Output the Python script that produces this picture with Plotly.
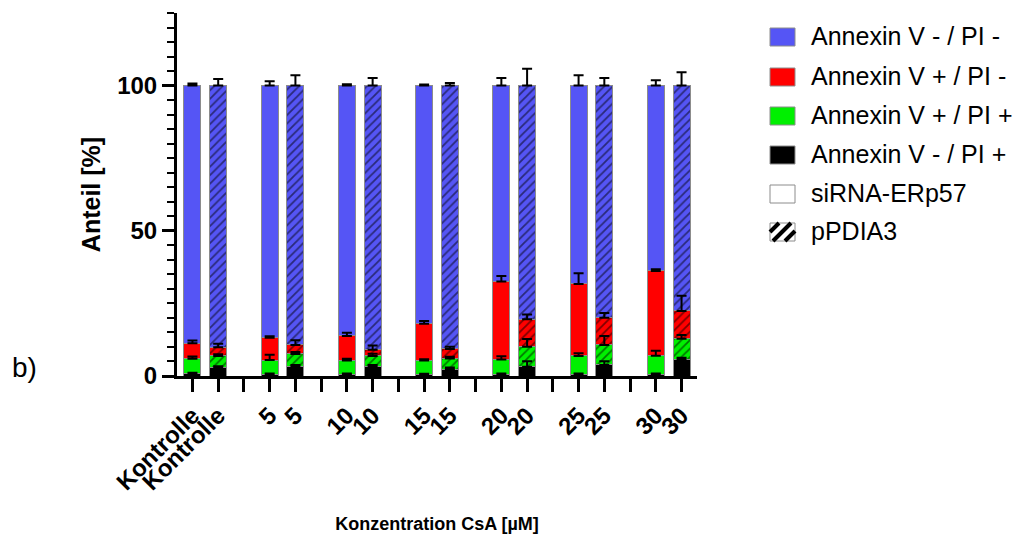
import plotly.graph_objects as go

# ---------------- data ----------------
categories = ["Kontrolle", "5", "10", "15", "20", "25", "30"]

# siRNA-ERp57 (solid bars), stacked bottom -> top
si_black = [0.8, 0.6, 0.6, 0.5, 0.6, 0.6, 0.6]
si_green = [5.1, 4.9, 4.7, 4.8, 5.1, 6.3, 6.4]
si_red = [5.4, 7.7, 8.5, 12.7, 26.8, 24.8, 29.2]
si_blue = [88.7, 86.8, 86.2, 82.0, 67.5, 68.3, 63.8]

# pPDIA3 (hatched bars)
pp_black = [2.9, 3.2, 3.2, 2.4, 3.2, 3.8, 5.7]
pp_green = [4.0, 4.4, 3.7, 3.6, 6.9, 6.9, 7.1]
pp_red = [3.0, 3.1, 2.1, 3.3, 9.4, 9.4, 9.6]
pp_blue = [90.1, 89.3, 91.0, 90.7, 80.5, 79.9, 77.6]

# upper error bars (SD)
si_black_err = [0.3, 0.3, 0.3, 0.3, 0.3, 0.3, 0.3]
si_green_err = [0.8, 1.8, 0.6, 0.5, 1.1, 0.9, 1.7]
si_red_err = [0.9, 0.5, 1.1, 0.9, 1.9, 3.7, 0.6]
si_blue_err = [0.7, 1.5, 0.5, 0.4, 2.6, 3.6, 1.8]
pp_black_err = [0.5, 0.6, 0.6, 0.5, 1.9, 1.3, 0.6]
pp_green_err = [0.6, 0.7, 0.8, 0.6, 2.6, 3.1, 1.3]
pp_red_err = [1.2, 1.6, 1.5, 0.8, 1.7, 1.6, 5.2]
pp_blue_err = [2.3, 3.6, 2.6, 0.9, 5.8, 2.6, 4.6]

series_names = ["Annexin V - / PI +", "Annexin V + / PI +", "Annexin V + / PI -", "Annexin V - / PI -"]
legend_names = ["Annexin V - / PI -", "Annexin V + / PI -", "Annexin V + / PI +", "Annexin V - / PI +",
                "siRNA-ERp57", "pPDIA3"]

# ---------------- style ----------------
COL = {"Annexin V - / PI +": "#000000", "Annexin V + / PI +": "#00F000",
       "Annexin V + / PI -": "#FF0000", "Annexin V - / PI -": "#5555F5"}
FONT = "Liberation Sans, Arial, sans-serif"

# layout geometry (reference pixels); page body adds an 8 px offset
OFF = 8
W_FIG, H_FIG = 1025 - OFF, 534 - OFF
L, R_EDGE, T, B = 177 - OFF, 697 - OFF, 13 - OFF, 376 - OFF
PW, PH = R_EDGE - L, B - T


def pxx(p):
    return (p - OFF - L) / PW


def pxy(p):
    return (B - (p - OFF)) / PH


x_si = [3 * i for i in range(len(categories))]
x_pp = [3 * i + 1 for i in range(len(categories))]

si_vals = [si_black, si_green, si_red, si_blue]
pp_vals = [pp_black, pp_green, pp_red, pp_blue]
si_errs = [si_black_err, si_green_err, si_red_err, si_blue_err]
pp_errs = [pp_black_err, pp_green_err, pp_red_err, pp_blue_err]

fig = go.Figure()

for name, vals in zip(series_names, si_vals):
    fig.add_trace(go.Bar(x=x_si, y=vals, name=name, width=0.66, showlegend=False,
                         marker=dict(color=COL[name], line=dict(color="#8c8c8c", width=1))))
for name, vals in zip(series_names, pp_vals):
    fig.add_trace(go.Bar(x=x_pp, y=vals, name=name + " pPDIA3", width=0.66, showlegend=False,
                         marker=dict(color=COL[name], line=dict(color="#8c8c8c", width=1),
                                     pattern=dict(shape="/", fgcolor="#000000", size=6,
                                                  solidity=0.3, fillmode="overlay"))))


def cumulative(lists):
    out, run = [], [0.0] * len(lists[0])
    for lst in lists:
        run = [a + b for a, b in zip(run, lst)]
        out.append(run)
    return out


for xs, vals, errs in ((x_si, si_vals, si_errs), (x_pp, pp_vals, pp_errs)):
    tops = cumulative(vals)
    for top, err in zip(tops, errs):
        fig.add_trace(go.Scatter(x=xs, y=top, mode="markers", showlegend=False, hoverinfo="skip",
                                 marker=dict(size=1, color="rgba(0,0,0,0)"),
                                 error_y=dict(type="data", symmetric=False, array=err,
                                              arrayminus=[0] * len(err), color="#000000",
                                              thickness=2, width=5)))

tickvals = list(range(3 * len(categories) - 1))
ticktext = []
for c in categories:
    ticktext += [c, c, ""]
ticktext = ticktext[:len(tickvals)]

fig.update_layout(
    width=W_FIG, height=H_FIG, barmode="stack",
    margin=dict(l=L, r=W_FIG - R_EDGE, t=T, b=H_FIG - B, autoexpand=False),
    paper_bgcolor="white", plot_bgcolor="white",
    font=dict(family=FONT, color="#000000"),
    showlegend=False,
    xaxis=dict(range=[-0.6, 19.6], tickmode="array", tickvals=tickvals, ticktext=ticktext,
               tickangle=-45, tickfont=dict(size=24, weight="bold", family=FONT),
               showline=True, linewidth=3, linecolor="#000000", ticks="outside", ticklen=13,
               tickwidth=3, tickcolor="#000000", showgrid=False, zeroline=False,
               title=dict(text="Konzentration CsA [µM]", font=dict(size=18, weight="bold"),
                          standoff=24)),
    yaxis=dict(range=[0, 125], tickmode="linear", tick0=0, dtick=50,
               tickfont=dict(size=24, weight="bold", family=FONT),
               showline=True, linewidth=3, linecolor="#000000", ticks="outside", ticklen=12,
               tickwidth=3, tickcolor="#000000", showgrid=False, zeroline=False,
               minor=dict(dtick=5, ticks="outside", ticklen=7, tickwidth=2, tickcolor="#000000",
                          showgrid=False),
               title=dict(text="Anteil [%]", font=dict(size=25, weight="bold"), standoff=10)),
)

# ---------------- custom legend ----------------
shapes, annos = [], []
legend_colors = [COL[n] for n in legend_names[:4]] + ["#ffffff", "#ffffff"]
centers = [37, 77, 116, 155, 194, 232]
for name, colr, cy in zip(legend_names, legend_colors, centers):
    shapes.append(dict(type="rect", xref="paper", yref="paper",
                       x0=pxx(770), x1=pxx(795), y0=pxy(cy + 9), y1=pxy(cy - 9),
                       fillcolor=colr, line=dict(color="#8c8c8c", width=1)))
    annos.append(dict(text=name, xref="paper", yref="paper", x=pxx(809), y=pxy(cy - 1),
                      xanchor="left", yanchor="middle", showarrow=False,
                      font=dict(size=25, family=FONT, color="#000000")))
# hatch lines for pPDIA3 icon
hc = centers[-1]
for (xa, ya, xb, yb) in [(770, hc, 779, hc - 9), (773, hc + 9, 791, hc - 9), (785, hc + 9, 795, hc - 1)]:
    shapes.append(dict(type="line", xref="paper", yref="paper", x0=pxx(xa), y0=pxy(ya),
                       x1=pxx(xb), y1=pxy(yb), line=dict(color="#000000", width=4)))

annos.append(dict(text="b)", xref="paper", yref="paper", x=pxx(24), y=pxy(367),
                  xanchor="center", yanchor="middle", showarrow=False,
                  font=dict(size=28, family=FONT, color="#000000")))

fig.update_layout(shapes=shapes, annotations=annos)

fig.write_html("out.html")
